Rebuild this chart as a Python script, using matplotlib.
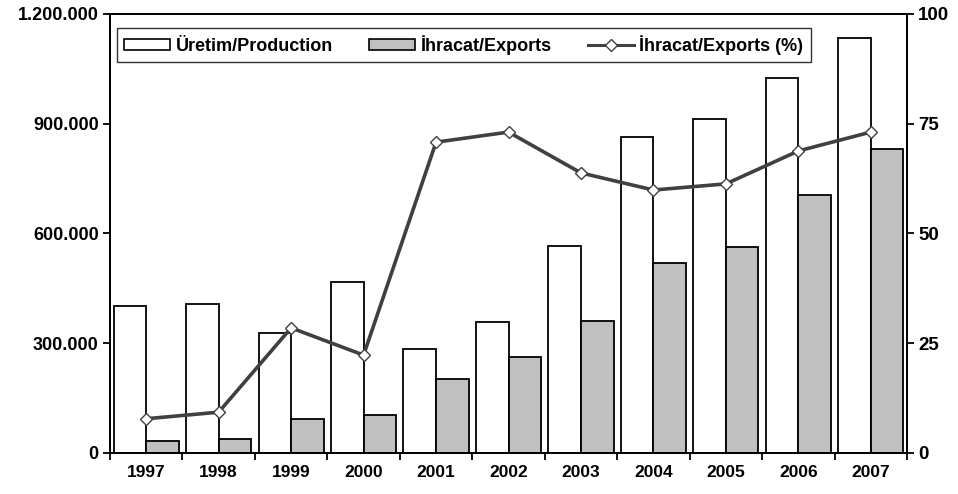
import matplotlib

matplotlib.use("Agg")
import matplotlib.pyplot as plt
from matplotlib.patches import Patch
from matplotlib.lines import Line2D
from matplotlib.ticker import FuncFormatter, FixedLocator

plt.rcParams["font.family"] = ["Liberation Sans", "DejaVu Sans"]
plt.rcParams["font.weight"] = "bold"

years = ["1997", "1998", "1999", "2000", "2001", "2002",
         "2003", "2004", "2005", "2006", "2007"]
production = [401000, 407000, 328000, 467000, 284000, 358000,
              566000, 864000, 913000, 1025000, 1134000]
exports = [33600, 37400, 93700, 104000, 202000, 262000,
           361000, 519000, 563000, 705000, 832000]
export_pct = [7.8, 9.3, 28.5, 22.3, 70.8, 73.1, 63.8, 59.9, 61.3, 68.8, 73.1]

INK = "#000000"
LINE = "#404040"
GRAY = "#c0c0c0"


def dots(v, _pos):
    return f"{int(v):,}".replace(",", ".")


fig = plt.figure(figsize=(9.58, 4.94), dpi=100, facecolor="white")
ax = fig.add_axes([0.1148, 0.083, 0.832, 0.8887])
ax2 = ax.twinx()

x = list(range(len(years)))
w = 0.45
ax.bar([i - w for i in x], production, width=w, align="edge",
       facecolor="white", edgecolor=INK, linewidth=1.3, zorder=2)
ax.bar(x, exports, width=w, align="edge",
       facecolor=GRAY, edgecolor=INK, linewidth=1.3, zorder=2)
ax2.plot(x, export_pct, color=LINE, linewidth=2.6, marker="D", markersize=6.5,
         markerfacecolor="white", markeredgecolor=LINE, markeredgewidth=1.0, zorder=3)

ax.set_xlim(-0.5, len(years) - 0.5)
ax.set_ylim(0, 1200000)
ax2.set_ylim(0, 100)
ax.set_yticks([0, 300000, 600000, 900000, 1200000])
ax.yaxis.set_major_formatter(FuncFormatter(dots))
ax2.set_yticks([0, 25, 50, 75, 100])

ax.set_xticks(x)
ax.set_xticklabels(years)
ax.xaxis.set_minor_locator(FixedLocator([i - 0.5 for i in range(len(years) + 1)]))
ax.tick_params(axis="x", which="major", length=0, pad=9, labelsize=12.5)
ax.tick_params(axis="x", which="minor", length=5, width=1.3, direction="out", color=INK)
ax.tick_params(axis="y", length=5, width=1.3, direction="out", labelsize=13, pad=3)
ax2.tick_params(axis="y", length=5, width=1.3, direction="out", labelsize=13.5, pad=3)
for a in (ax, ax2):
    for s in a.spines.values():
        s.set_linewidth(1.3)
        s.set_color(INK)
    for t in a.get_yticklabels() + a.get_xticklabels():
        t.set_fontweight("bold")

handles = [
    Patch(facecolor="white", edgecolor=INK, linewidth=1.2, label="Üretim/Production"),
    Patch(facecolor=GRAY, edgecolor=INK, linewidth=1.2, label="İhracat/Exports"),
    Line2D([], [], color=LINE, linewidth=2.2, marker="D", markersize=6,
           markerfacecolor="white", markeredgecolor=LINE, label="İhracat/Exports (%)"),
]
leg = ax2.legend(handles=handles, loc="upper left", bbox_to_anchor=(0.009, 0.968),
                 ncol=3, frameon=True, fancybox=False, edgecolor=INK,
                 prop={"weight": "bold", "size": 13}, handlelength=2.55,
                 handleheight=0.5, columnspacing=2.0, handletextpad=0.3,
                 borderpad=0.4, borderaxespad=0)
leg.get_frame().set_linewidth(1.0)

fig.savefig("out.png", dpi=100, facecolor="white")
